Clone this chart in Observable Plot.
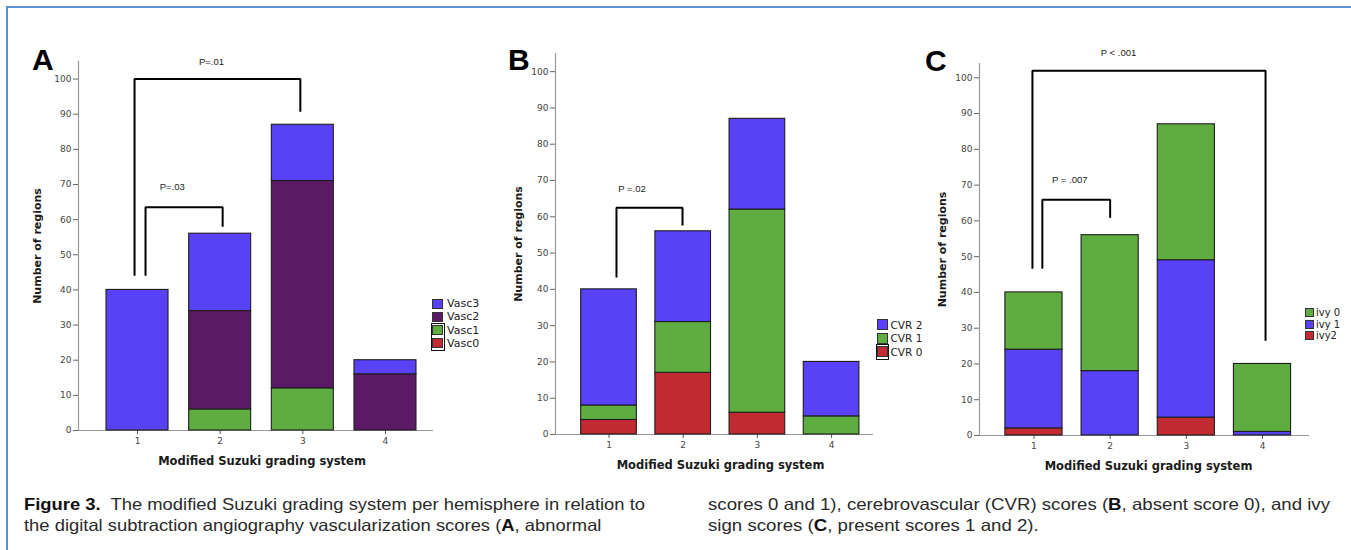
<!DOCTYPE html>
<html>
<head>
<meta charset="utf-8">
<script src="https://cdn.jsdelivr.net/npm/d3@7"></script>
<script src="https://cdn.jsdelivr.net/npm/@observablehq/plot@0.6"></script>
<style>
  html, body { margin: 0; padding: 0; background: #fff; }
  #root { position: relative; width: 1351px; height: 550px; overflow: hidden; background: #fff; }
  .frame { position: absolute; left: 6px; top: 6px; right: -10px; bottom: -10px;
           border-top: 2px solid #5b8fd1; border-left: 2px solid #5b8fd1; }
  .letter { position: absolute; font-family: "Liberation Sans", Arial, sans-serif; font-weight: bold;
            font-size: 30px; line-height: 1; color: #000; }
  .legend { position: absolute; font-family: "DejaVu Sans", sans-serif; color: #222; z-index: 5; }
  .legend .row { position: absolute; white-space: nowrap; display: flex; align-items: center; }
  .legend .sw { box-sizing: border-box; border: 1px solid #333; display: inline-block; }
  .caption { position: absolute; font-family: "Liberation Sans", Arial, sans-serif;
             font-size: 16.5px; line-height: 21px; color: #2a2a2a; white-space: nowrap;
             transform-origin: 0 0; }
  .caption b { color: #111; }
  .caption .ln { display: block; }
</style>
</head>
<body>
<div id="root"><div class="frame"></div></div>
<script>
// ---------------- data ----------------
const grades = [1, 2, 3, 4];
const yTicks = [0, 10, 20, 30, 40, 50, 60, 70, 80, 90, 100];
const xTitle = "Modified Suzuki grading system";
const yTitle = "Number of regions";

// Panel A (stack order bottom -> top)
const vascNames = ["Vasc0", "Vasc1", "Vasc2", "Vasc3"];
const vasc0 = [0, 0, 0, 0];
const vasc1 = [0, 6, 12, 0];
const vasc2 = [0, 28, 59, 16];
const vasc3 = [40, 22, 16, 4];

// Panel B
const cvrNames = ["CVR 0", "CVR 1", "CVR 2"];
const cvr0 = [4, 17, 6, 0];
const cvr1 = [4, 14, 56, 5];
const cvr2 = [32, 25, 25, 15];

// Panel C
const ivyNames = ["ivy2", "ivy 1", "ivy 0"];
const ivy2 = [2, 0, 5, 0];
const ivy1 = [22, 18, 44, 1];
const ivy0 = [16, 38, 38, 19];

// significance brackets (grade units / counts)
const bracketsA = [
  {label: "P=.01", from: 0.964, to: 2.97, left: 44, top: 100, right: 90.7, lx: 1.895, ly: 104.9},
  {label: "P=.03", from: 1.097, to: 2.03, left: 44, top: 63.5, right: 58, lx: 1.42, ly: 69.4}
];
const bracketsB = [
  {label: "P =.02", from: 1.101, to: 1.991, left: 43.3, top: 62.5, right: 57.6, lx: 1.31, ly: 67.8}
];
const bracketsC = [
  {label: "P < .001", from: 0.98, to: 4.04, left: 46.6, top: 102, right: 26.5, lx: 2.11, ly: 107},
  {label: "P = .007", from: 1.11, to: 2.0, left: 46.6, top: 65.9, right: 60.9, lx: 1.47, ly: 71.5}
];

// caption lines
const captionLeft = [
  "<b>Figure 3.</b>&nbsp; The modified Suzuki grading system per hemisphere in relation to",
  "the digital subtraction angiography vascularization scores (<b>A</b>, abnormal"
];
const captionRight = [
  "scores 0 and 1), cerebrovascular (CVR) scores (<b>B</b>, absent score 0), and ivy",
  "sign scores (<b>C</b>, present scores 1 and 2)."
];

// ---------------- styles ----------------
const BLUE = "#5841f6", PURPLE = "#5b1966", GREEN = "#5fac41", RED = "#c12a30";

function stackRows(names, series, colors) {
  const rows = [];
  grades.forEach((g, i) => {
    let acc = 0;
    series.forEach((s, k) => {
      const v = s[i];
      if (v > 0) rows.push({g, name: names[k], y1: acc, y2: acc + v, color: colors[k]});
      acc += v;
    });
  });
  return rows;
}

function bracketPoints(brs) {
  const pts = [];
  brs.forEach((b, i) => {
    pts.push({id: i, x: b.from, y: b.left}, {id: i, x: b.from, y: b.top},
             {id: i, x: b.to, y: b.top}, {id: i, x: b.to, y: b.right});
  });
  return pts;
}

function panel(cfg) {
  const rows = stackRows(cfg.names, cfg.series, cfg.colors);
  const hw = 0.375;
  const svg = Plot.plot({
    width: cfg.width, height: 480,
    marginLeft: cfg.ml, marginRight: cfg.mr, marginTop: cfg.mt, marginBottom: 480 - cfg.y0,
    style: {background: "transparent", overflow: "visible", fontFamily: "'DejaVu Sans', sans-serif"},
    x: {domain: cfg.xd, axis: null},
    y: {domain: [0, cfg.ymax], axis: null},
    color: {type: "identity"},
    marks: [
      Plot.ruleX([cfg.xd[0]], {y1: 0, y2: cfg.ymax, stroke: "#9a9a9a", strokeWidth: 1.2}),
      Plot.ruleY([0], {stroke: "#9a9a9a", strokeWidth: 1.2}),
      Plot.axisY({ticks: yTicks, tickSize: 5, tickPadding: 2, fontSize: 9, label: null,
                  stroke: "#666", fill: "#444", tickFormat: d => String(d)}),
      Plot.axisX({ticks: grades, tickSize: 4, tickPadding: 3, fontSize: 9, label: null,
                  stroke: "#555", fill: "#444", tickFormat: d => String(d)}),
      Plot.rect(rows, {x1: d => d.g - hw, x2: d => d.g + hw, y1: "y1", y2: "y2",
                       fill: "color", stroke: "#1e1e1e", strokeWidth: 1.1}),
      Plot.line(bracketPoints(cfg.brackets), {x: "x", y: "y", z: "id", stroke: "#000",
                       strokeWidth: 2, strokeLinejoin: "miter", strokeLinecap: "butt"}),
      Plot.text(cfg.brackets, {x: "lx", y: "ly", text: "label", fontSize: 9.5,
                       fontFamily: "'Liberation Sans', Arial, sans-serif", fill: "#222"}),
      Plot.text([xTitle], {text: d => d, frameAnchor: "bottom", dy: 31, dx: cfg.xdx,
                       textAnchor: "middle", lineAnchor: "middle",
                       fontSize: 11.5, fontWeight: "bold", fill: "#1a1a1a"}),
      Plot.text([yTitle], {text: d => d, frameAnchor: "left", rotate: -90, dx: cfg.ydx,
                       textAnchor: "middle", lineAnchor: "middle",
                       fontSize: 11, fontWeight: "bold", fill: "#1a1a1a"})
    ]
  });
  svg.style.left = cfg.left + "px";
  svg.style.position = "absolute";
  svg.style.top = "0px";
  svg.style.maxWidth = "none";
  return svg;
}

const root = document.getElementById("root");

root.appendChild(panel({
  left: 0, width: 450, ml: 78, mr: 17, mt: 61, y0: 430, ymax: 105,
  xd: [0.286, 4.581], xdx: 6, ydx: -41,
  names: vascNames, series: [vasc0, vasc1, vasc2, vasc3], colors: [RED, GREEN, PURPLE, BLUE],
  brackets: bracketsA
}));
root.appendChild(panel({
  left: 450, width: 450, ml: 105, mr: 27, mt: 53, y0: 434, ymax: 105,
  xd: [0.279, 4.565], xdx: 6, ydx: -37,
  names: cvrNames, series: [cvr0, cvr1, cvr2], colors: [RED, GREEN, BLUE],
  brackets: bracketsB
}));
root.appendChild(panel({
  left: 900, width: 451, ml: 79, mr: 42, mt: 63, y0: 435, ymax: 104,
  xd: [0.285, 4.617], xdx: 4, ydx: -37,
  names: ivyNames, series: [ivy2, ivy1, ivy0], colors: [RED, BLUE, GREEN],
  brackets: bracketsC
}));

// panel letters
[["A", 32, 50], ["B", 508, 50], ["C", 925, 51]].forEach(([t, x, y]) => {
  const d = document.createElement("div");
  d.className = "letter";
  d.textContent = t;
  d.style.left = x + "px";
  d.style.top = (y - 5) + "px";
  root.appendChild(d);
});

// legends (top item first)
function legend(names, colors, o) {
  const box = document.createElement("div");
  box.className = "legend";
  box.style.left = o.left + "px";
  box.style.top = o.top + "px";
  box.style.fontSize = o.fs + "px";
  names.forEach((n, i) => {
    const r = document.createElement("div");
    r.className = "row";
    r.style.top = (i * o.rowH) + "px";
    r.style.left = "0px";
    r.style.height = o.sh + "px";
    const s = document.createElement("span");
    s.className = "sw";
    s.style.width = o.sw + "px";
    s.style.height = o.sh + "px";
    s.style.background = colors[i];
    const t = document.createElement("span");
    t.textContent = n;
    t.style.marginLeft = o.gap + "px";
    r.appendChild(s); r.appendChild(t);
    box.appendChild(r);
  });
  if (o.boxFrom !== undefined) {
    const b = document.createElement("div");
    b.style.position = "absolute";
    b.style.left = "-1.5px";
    b.style.top = (o.boxFrom * o.rowH - 2.5) + "px";
    b.style.width = (o.sw + 1) + "px";
    b.style.height = ((names.length - o.boxFrom - 1) * o.rowH + o.sh + 3) + "px";
    b.style.border = "1.3px solid #111";
    box.appendChild(b);
  }
  root.appendChild(box);
}
legend(["Vasc3", "Vasc2", "Vasc1", "Vasc0"], [BLUE, PURPLE, GREEN, RED],
       {left: 432, top: 298.7, rowH: 13.2, sw: 11, sh: 10, gap: 4, fs: 11, boxFrom: 2});
legend(["CVR 2", "CVR 1", "CVR 0"], [BLUE, GREEN, RED],
       {left: 877, top: 319, rowH: 13.5, sw: 10.5, sh: 11, gap: 3, fs: 10.5, boxFrom: 2});
legend(["ivy 0", "ivy 1", "ivy2"], [GREEN, BLUE, RED],
       {left: 1305, top: 308, rowH: 11.5, sw: 8.5, sh: 9, gap: 2.5, fs: 10});

// caption: two columns, first line of each fitted to its measured width in the figure
function caption(lines, left, top, firstLineWidth) {
  const d = document.createElement("div");
  d.className = "caption";
  d.style.left = left + "px";
  d.style.top = top + "px";
  d.innerHTML = lines.map(l => `<span class="ln">${l}</span>`).join("");
  root.appendChild(d);
  const first = d.querySelector(".ln");
  const r = document.createRange();
  r.selectNodeContents(first);
  const w = r.getBoundingClientRect().width;
  const k = firstLineWidth / w;
  d.style.transform = `scaleX(${k})`;
}
caption(captionLeft, 24, 494, 621);
caption(captionRight, 708, 494, 622);
</script>
</body>
</html>
